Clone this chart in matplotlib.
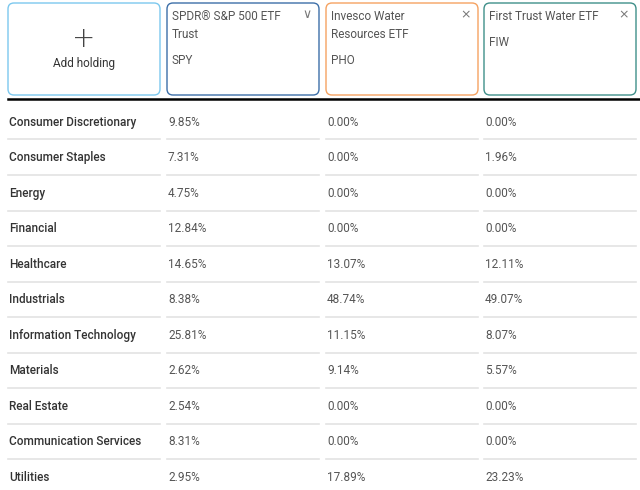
import matplotlib.pyplot as plt
from matplotlib.patches import FancyBboxPatch

# sector weights (%) per fund
sectors = ["Consumer Discretionary", "Consumer Staples", "Energy", "Financial",
           "Healthcare", "Industrials", "Information Technology", "Materials",
           "Real Estate", "Communication Services", "Utilities"]
spy = [9.85, 7.31, 4.75, 12.84, 14.65, 8.38, 25.81, 2.62, 2.54, 8.31, 2.95]
pho = [0.00, 0.00, 0.00, 0.00, 13.07, 48.74, 11.15, 9.14, 0.00, 0.00, 17.89]
fiw = [0.00, 1.96, 0.00, 0.00, 12.11, 49.07, 8.07, 5.57, 0.00, 0.00, 23.23]

fund_names = [["SPDR® S&P 500 ETF", "Trust"], ["Invesco Water", "Resources ETF"],
              ["First Trust Water ETF"]]
tickers = ["SPY", "PHO", "FIW"]
box_colors = ["#3d6fa8", "#f5a261", "#3f8f8a"]
icons = ["∨", "×", "×"]

fig = plt.figure(figsize=(6.4, 4.9), dpi=100)
ax = fig.add_axes([0, 0, 1, 1])
ax.set_xlim(0, 640)
ax.set_ylim(490, 0)
ax.axis("off")

col_x = [8, 167, 326, 484]
col_w = 152
txt = "#333333"
font = "Roboto"

def box(x, color):
    ax.add_patch(FancyBboxPatch((x + 4, 7), col_w - 8, 84,
                                boxstyle="round,pad=4,rounding_size=6",
                                fc="white", ec=color, lw=1))

box(col_x[0], "#7cc8ee")
ax.text(col_x[0] + col_w / 2, 39, "+", ha="center", va="center",
        fontsize=20, color="#444444", fontweight="light")
ax.text(col_x[0] + col_w / 2, 63, "Add holding", ha="center", va="center",
        fontsize=8.5, color=txt, family=font)

for i in range(3):
    x = col_x[i + 1]
    box(x, box_colors[i])
    for j, line in enumerate(fund_names[i]):
        ax.text(x + 5, 16 + j * 18.5, line, ha="left", va="center",
                fontsize=8.5, color="#555555", family=font)
    ty = 61 if len(fund_names[i]) == 2 else 43
    ax.text(x + 5, ty, tickers[i], ha="left", va="center",
            fontsize=8.5, color="#555555", family=font)
    ax.text(x + col_w - 12, 15, icons[i], ha="center", va="center",
            fontsize=9, color="#777777")

ax.plot([8, 640], [99.5, 99.5], color="black", lw=1.8)

row_h = 35.5
for r, name in enumerate(sectors):
    y = 122 + r * row_h
    ax.text(col_x[0] + 1, y, name, ha="left", va="center", fontsize=8.5,
            color=txt, family=font, fontweight="medium")
    for k, vals in enumerate([spy, pho, fiw]):
        ax.text(col_x[k + 1] + 1, y, f"{vals[r]:.2f}%", ha="left", va="center",
                fontsize=8.5, color="#555555", family=font)
    if r < len(sectors) - 1:
        for x in col_x:
            ax.plot([x, x + col_w], [y + 17.5, y + 17.5], color="#e3e3e3", lw=1.2)

fig.savefig("out.png", dpi=100)
